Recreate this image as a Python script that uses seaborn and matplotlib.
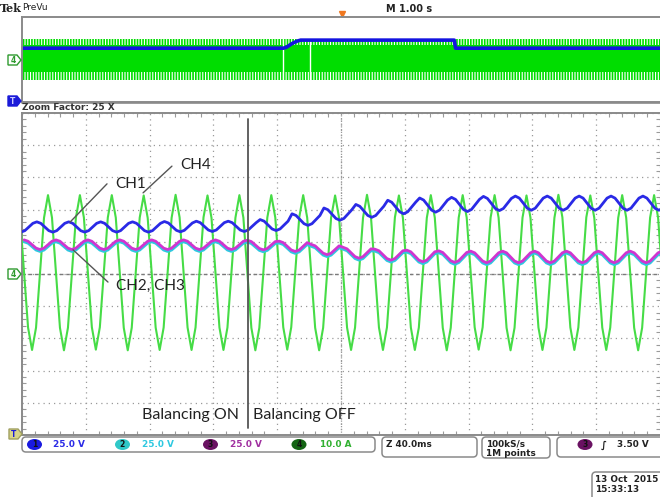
import numpy as np
import pandas as pd
import matplotlib
matplotlib.use("Agg")
import matplotlib.pyplot as plt
import seaborn as sns
from matplotlib.patches import FancyBboxPatch, Ellipse, Polygon

# ------------------------------------------------------------------ data
# Zoomed window (Z 40.0 ms/div): time of each CH4 current peak, ms
cycle_peak_ms = [-203.7, -183.7, -163.7, -143.7, -123.7, -103.7, -83.7,
                 -63.7, -43.7, -23.7, -3.7, 16.3, 36.3, 56.3, 76.3, 96.3,
                 116.3, 136.3, 156.3, 176.3, 196.3]
# per-cycle levels, in screen divisions
ch4_center_div = [0.04, 0.04, 0.05, 0.04, 0.04, 0.05, 0.04, 0.04, 0.05, 0.04, 0.04,
                  0.05, 0.04, 0.04, 0.05, 0.04, 0.04, 0.05, 0.04, 0.04, 0.05]
ch4_half_amp_div = [2.40, 2.41, 2.40, 2.41, 2.40, 2.41, 2.40, 2.41, 2.40, 2.41, 2.40,
                    2.41, 2.40, 2.41, 2.40, 2.41, 2.40, 2.41, 2.40, 2.41, 2.40]
ch1_center_div = [1.46, 1.46, 1.46, 1.46, 1.46, 1.47, 1.48, 1.48, 1.52, 1.69, 1.86,
                  1.96, 2.08, 2.14, 2.16, 2.19, 2.20, 2.20, 2.20, 2.20, 2.20]
ch1_half_amp_div = [0.16, 0.16, 0.16, 0.16, 0.16, 0.16, 0.16, 0.16, 0.17, 0.18, 0.19,
                    0.20, 0.21, 0.22, 0.22, 0.22, 0.22, 0.22, 0.22, 0.22, 0.22]
ch3_center_div = [0.91, 0.91, 0.91, 0.91, 0.91, 0.91, 0.91, 0.90, 0.86, 0.76, 0.66,
                  0.60, 0.56, 0.54, 0.53, 0.53, 0.53, 0.53, 0.53, 0.53, 0.53]
ch3_half_amp_div = [0.15, 0.15, 0.15, 0.15, 0.15, 0.15, 0.15, 0.15, 0.16, 0.16, 0.17,
                    0.17, 0.18, 0.18, 0.18, 0.18, 0.18, 0.18, 0.18, 0.18, 0.18]
ch2_below_ch3_div = 0.06
phase_ms = {"CH1": -7.0, "CH2": 5.0, "CH3": 5.0, "CH4": 0.0}
# one cycle of the waveform shape, every 2.5 ms
cycle_shape = [1.0, 0.71, 0.0, -0.71, -1.0, -0.71, 0.0, 0.71]
shape_step_ms = 2.5
balancing_off_ms = -58.5

# Preview record (M 1.00 s/div)
prev_t_s = [-5.0, -0.91, -0.86, -0.78, -0.70, -0.64, 1.765, 1.785, 5.0]
prev_ch1_div = [1.33, 1.33, 1.45, 1.85, 2.15, 2.28, 2.28, 1.33, 1.33]
prev_env_t_s = [-5.0, 5.0]
prev_ch4_max_div = [2.41, 2.41]
prev_ch4_min_div = [-2.41, -2.41]
prev_ch4_core_hi_div = [1.71, 1.71]
prev_ch4_core_lo_div = [-1.47, -1.47]
zoom_window_s = [-0.91, -0.49]

# -------------------------------------------------------------- build
def build(name, centers, amps, offset=0.0):
    t, v = [], []
    for tp, c, a in zip(cycle_peak_ms, centers, amps):
        for i, s in enumerate(cycle_shape):
            t.append(tp + phase_ms[name] + i * shape_step_ms)
            v.append(c + a * s - offset)
    return pd.DataFrame({"t": t, "v": v})

df4 = build("CH4", ch4_center_div, ch4_half_amp_div)
df1 = build("CH1", ch1_center_div, ch1_half_amp_div)
df3 = build("CH3", ch3_center_div, ch3_half_amp_div)
df2 = build("CH2", ch3_center_div, ch3_half_amp_div, ch2_below_ch3_div)
dfp = pd.DataFrame({"t": prev_t_s, "v": prev_ch1_div})

sns.set_style("white")
plt.rcParams["font.family"] = ["DejaVu Sans"]

W, H = 660, 497
fig = plt.figure(figsize=(W / 100, H / 100), dpi=100)
fig.patch.set_facecolor("white")

def ax_rect(x0, y0, x1, y1):
    return [x0 / W, 1 - y1 / H, (x1 - x0) / W, (y1 - y0) / H]

GRID = "#9a9a9a"
BORDER = "#8a8a8a"
C_BLUE = "#2a2ae6"
C_CYAN = "#2ec8e0"
C_MAG = "#d034d0"
C_GREEN = "#46dc46"

# ---------------------------------------------------------- preview
axp = fig.add_axes(ax_rect(22, 17, 661, 102))
axp.set_xlim(-5, 5)
axp.set_ylim(-5, 5)
axp.fill_between(prev_env_t_s, prev_ch4_core_lo_div, prev_ch4_core_hi_div,
                 color="#00dd00", lw=0)
plt.rcParams["hatch.linewidth"] = 1.2
axp.fill_between(prev_env_t_s, prev_ch4_core_hi_div, prev_ch4_max_div,
                 facecolor="none", edgecolor="#00dd00", hatch="||||||", lw=0)
axp.fill_between(prev_env_t_s, prev_ch4_min_div, prev_ch4_core_lo_div,
                 facecolor="none", edgecolor="#00dd00", hatch="||||||", lw=0)
for zx in zoom_window_s:
    axp.axvline(zx, ymin=0.25, ymax=0.74, color="white", lw=1.0)
sns.lineplot(data=dfp, x="t", y="v", ax=axp, color="#1414e0", lw=2.6,
             sort=False, estimator=None)
axp.plot([0], [5.35], marker="v", color="#f07820", ms=5, clip_on=False)
axp.set_xticks([]); axp.set_yticks([])
axp.set_xlabel(""); axp.set_ylabel("")
axp.spines["right"].set_visible(False)
for s in ["top", "bottom", "left"]:
    axp.spines[s].set_color(BORDER)
    axp.spines[s].set_linewidth(1.4)

# ------------------------------------------------------------- main
ax = fig.add_axes(ax_rect(22, 113, 660, 435))
ax.set_xlim(-200, 200)
ax.set_ylim(-5, 5)
ax.set_xticks(np.arange(-200, 201, 40))
ax.set_yticks(np.arange(-5, 6, 1))
ax.set_xticks(np.arange(-200, 201, 8), minor=True)
ax.set_yticks(np.arange(-5, 5.01, 0.2), minor=True)
ax.tick_params(which="major", length=0, labelbottom=False, labelleft=False)
ax.tick_params(which="minor", direction="in", length=3, color=GRID, width=0.8,
               top=True, right=True, bottom=True, left=True)
ax.grid(True, which="major", color=GRID, lw=0.9, ls=(0, (1, 3.2)))
ax.axhline(0, color="#7a7a7a", lw=1.0, ls=(0, (2.5, 2)), zorder=1)
ax.axvline(0, color=GRID, lw=0.9, ls=(0, (1, 1.2)), zorder=1)
for s in ax.spines.values():
    s.set_color(BORDER)
    s.set_linewidth(1.4)
ax.spines["right"].set_visible(False)

sns.lineplot(data=df4, x="t", y="v", ax=ax, color=C_GREEN, lw=1.5,
             sort=False, estimator=None, zorder=3)
sns.lineplot(data=df2, x="t", y="v", ax=ax, color=C_CYAN, lw=2.0,
             sort=False, estimator=None, zorder=4)
sns.lineplot(data=df3, x="t", y="v", ax=ax, color=C_MAG, lw=2.0,
             sort=False, estimator=None, zorder=5)
sns.lineplot(data=df1, x="t", y="v", ax=ax, color=C_BLUE, lw=2.0,
             sort=False, estimator=None, zorder=6)
ax.set_xlabel(""); ax.set_ylabel("")

ax.plot([balancing_off_ms, balancing_off_ms], [-4.78, 4.81], color="#555555",
        lw=1.3, zorder=7)
lab_font = dict(family=["Lato", "DejaVu Sans"], fontsize=11.5, color="#222222")
ax.text(balancing_off_ms - 5.5, -4.5, "Balancing ON", ha="right", va="baseline",
        zorder=8, **lab_font)
ax.text(balancing_off_ms + 3.5, -4.5, "Balancing OFF", ha="left", va="baseline",
        zorder=8, **lab_font)

ch_font = dict(family=["Lato", "DejaVu Sans"], fontsize=11, color="#222222")
ax.text(-141.7, 2.81, "CH1", ha="left", va="center", zorder=8, **ch_font)
ax.text(-100.9, 3.37, "CH4", ha="left", va="center", zorder=8, **ch_font)
ax.text(-141.1, -0.37, "CH2, CH3", ha="left", va="center", zorder=8, **ch_font)
lead = dict(color="#555555", lw=1.0, zorder=8)
ax.plot([-146.7, -169.9], [2.80, 1.61], **lead)
ax.plot([-106.0, -124.1], [3.35, 2.52], **lead)
ax.plot([-146.1, -168.0], [-0.25, 0.75], **lead)

# ------------------------------------------------- overlay (scope UI)
ov = fig.add_axes([0, 0, 1, 1])
ov.set_xlim(0, W)
ov.set_ylim(H, 0)
ov.axis("off")
ov.patch.set_visible(False)

ov.text(0, 8, "Tek", fontsize=8, fontweight="bold", va="center", ha="left",
        color="#222222", family=["DejaVu Serif"])
ov.text(22, 8, "PreVu", fontsize=6.5, va="center", ha="left", color="#222222")
ov.text(386, 9, "M 1.00 s", fontsize=7, fontweight="bold", va="center",
        ha="left", color="#222222")
ov.text(22, 107, "Zoom Factor: 25 X", fontsize=6.5, fontweight="bold",
        va="center", ha="left", color="#333333")
ov.plot([22, 660], [102.5, 102.5], color=BORDER, lw=1.2)

# ground / trigger markers
def marker(x, y, fc, ec, txt, tc):
    ov.add_patch(Polygon([(x, y - 5), (x + 9, y - 5), (x + 13, y), (x + 9, y + 5),
                          (x, y + 5)], closed=True, fc=fc, ec=ec, lw=1.0))
    ov.text(x + 5, y + 0.5, txt, fontsize=5.5, fontweight="bold", ha="center",
            va="center", color=tc)

marker(8, 60, "white", "#2e9a2e", "4", "#2e9a2e")
marker(8, 274, "white", "#2e9a2e", "4", "#2e9a2e")
marker(8, 101, "#1a1ad8", "#1a1ad8", "T", "#c8c8ff")
marker(9, 434, "#d8d488", "#a0a060", "T", "#1a1ad8")

# bottom readout boxes
def rbox(x0, y0, x1, y1):
    ov.add_patch(FancyBboxPatch((x0, y0), x1 - x0, y1 - y0,
                                boxstyle="round,pad=0,rounding_size=4",
                                fc="white", ec="#8a8a8a", lw=1.1))

rbox(22, 437, 375, 452)
rbox(382, 437, 477, 457)
rbox(482, 437, 550, 458)
rbox(557, 437, 668, 457)
rbox(592, 472, 668, 502)

ro = dict(fontsize=6.4, fontweight="bold", va="center", ha="left")
chans = [(34.5, "#1a1ae0", "1", 53, "25.0 V", "#2a2ae6"),
         (122.5, "#30c8c8", "2", 142, "25.0 V", "#2ec8e0"),
         (210.5, "#6a1262", "3", 230, "25.0 V", "#a030a0"),
         (299.0, "#146414", "4", 320, "10.0 A", "#30b030")]
for cx, cc, n, tx, t, tc in chans:
    ov.add_patch(Ellipse((cx, 444.5), 15, 11, fc=cc, ec="none"))
    ov.text(cx, 444.8, n, fontsize=5.5, fontweight="bold", ha="center",
            va="center", color="#111111")
    ov.text(tx, 444.8, t, color=tc, **ro)

ov.text(386, 444.5, "Z 40.0ms", color="#222222", **ro)
ov.text(486, 444.0, "100kS/s", color="#222222", **ro)
ov.text(486, 453.0, "1M points", color="#222222", **ro)
ov.add_patch(Ellipse((585, 444.5), 15, 11, fc="#6a1262", ec="none"))
ov.text(585, 444.8, "3", fontsize=5.5, fontweight="bold", ha="center",
        va="center", color="#111111")
ov.text(601, 444.8, "\u222b", fontsize=7, fontweight="bold", ha="left",
        va="center", color="#222222")
ov.text(617, 444.8, "3.50 V", color="#222222", **ro)
ov.text(595, 479.5, "13 Oct  2015", color="#222222", **ro)
ov.text(595, 489.5, "15:33:13", color="#222222", **ro)

fig.savefig("out.png", dpi=100, facecolor="white")
